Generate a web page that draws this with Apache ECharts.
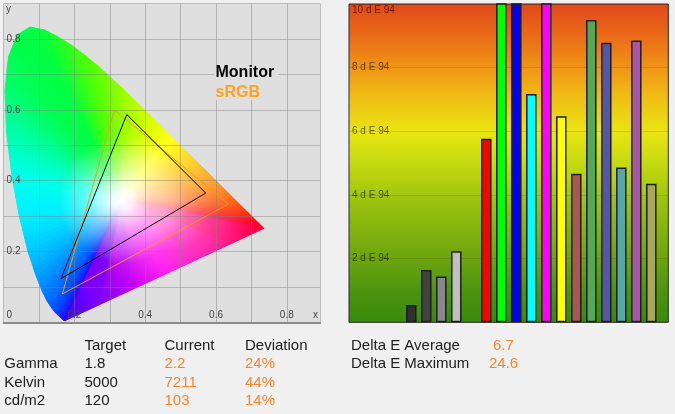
<!DOCTYPE html>
<html><head><meta charset="utf-8">
<script src="https://cdn.jsdelivr.net/npm/echarts@6.0.0/dist/echarts.min.js"></script>
<style>html,body{margin:0;padding:0;background:#f0f0f0;}#c{width:675px;height:414px;}</style>
</head><body><div id="c"></div>
<script>
// ---- CIE 1931 spectral locus (x, y) and display colours ----
const locusNm = [380,400,420,430,440,450,460,470,475,480,485,490,495,500,505,510,515,520,525,530,535,540,545,550,555,560,565,570,575,580,585,590,595,600,610,620,630,640,650,700];
const locusX = [0.1741,0.1733,0.1714,0.1689,0.1644,0.1566,0.1440,0.1241,0.1096,0.0913,0.0687,0.0454,0.0235,0.0082,0.0039,0.0139,0.0389,0.0743,0.1142,0.1547,0.1929,0.2296,0.2658,0.3016,0.3373,0.3731,0.4087,0.4441,0.4788,0.5125,0.5448,0.5752,0.6029,0.6270,0.6658,0.6915,0.7079,0.7190,0.7260,0.7347];
const locusY = [0.0050,0.0048,0.0051,0.0069,0.0109,0.0177,0.0297,0.0578,0.0868,0.1327,0.2007,0.2950,0.4127,0.5384,0.6548,0.7502,0.8120,0.8338,0.8262,0.8059,0.7816,0.7543,0.7243,0.6923,0.6589,0.6245,0.5896,0.5547,0.5202,0.4866,0.4544,0.4242,0.3965,0.3725,0.3340,0.3083,0.2920,0.2809,0.2740,0.2653];
const locusColor = ['#3a00ff','#3600ff','#3000ff','#2a08ff','#2012ff','#102aff','#0048ff','#0068ff','#0080ff','#00a0ff','#00c8ff','#00f0ff','#00ffea','#00ffa8','#00ff70','#00ff50','#00ff48','#00ff44','#08ff38','#20ff28','#34ff18','#48ff08','#5cff00','#78ff00','#94ff00','#b0ff00','#ccff00','#e8ff00','#ffff00','#ffe000','#ffc400','#ffa400','#ff8c00','#ff7000','#ff4800','#ff2800','#ff1418','#ff0828','#ff0430','#ff0034'];
const purpleMid = '#ff00f0';
const whitePoint = [0.335, 0.345];
const warmPoint = [0.47, 0.32];

// ---- gamut triangles (x, y), closed ----
const monitorX = [0.571, 0.348, 0.162, 0.571];
const monitorY = [0.365, 0.587, 0.123, 0.365];
const srgbX = [0.635, 0.313, 0.166, 0.635];
const srgbY = [0.334, 0.600, 0.080, 0.334];

// ---- Delta E bars ----
const patchCategories = ['K1','K2','K3','K4','','Red','Green','Blue','Cyan','Magenta','Yellow','P1','P2','P3','P4','P5','P6'];
const deltaE = [0.54, 1.64, 1.44, 2.23, null, 5.77, 12.5, 24.6, 7.17, 13.0, 6.47, 4.67, 9.5, 8.78, 4.86, 8.85, 4.35];
const patchColors = ['#303030','#424242','#888888','#c0c0c0','#000000','#ff0000','#00ff00','#0000ff','#00ffff','#ff00ff','#ffff00','#a85656','#56a856','#5656a8','#56a8a8','#a856a8','#a8a856'];
const deltaUnit = ' d E 94';

// ---- table texts ----
const tableHeader = ['Target','Current','Deviation'];
const rowNames = ['Gamma','Kelvin','cd/m2'];
const targetVals = ['1.8','5000','120'];
const currentVals = ['2.2','7211','103'];
const deviationVals = ['24%','44%','14%'];
const deltaLabels = ['Delta E Average','Delta E Maximum'];
const deltaVals = ['6.7','24.6'];
const legendNames = ['Monitor','sRGB'];

const FONT = '"Liberation Sans", Arial, sans-serif';
const DARK = '#202020';
const ORANGE = '#f7862f';
const SUBDIV = 6;

function hexRgb(h){ return [parseInt(h.slice(1,3),16), parseInt(h.slice(3,5),16), parseInt(h.slice(5,7),16)]; }
function mix(a, b, t){ const A = hexRgb(a), B = hexRgb(b);
  return 'rgb(' + A.map((v,k) => Math.round(v + (B[k]-v)*t)).join(',') + ')'; }
function segColor(i, j, t){
  if (j === 0) { return t < 0.5 ? mix(locusColor[i], purpleMid, t*2) : mix(purpleMid, locusColor[j], t*2-1); }
  return mix(locusColor[i], locusColor[j], t);
}

const chart = echarts.init(document.getElementById('c'), null, {renderer:'canvas'});

function hideOdd(v){
  const k = Math.round(v*10);
  if (k % 2) return '';
  if (k === 0) return '{z|0}';
  return (k/10).toFixed(1);
}

const fanData = locusX.map((_, i) => [i]);

const graphics = [];
graphics.push({type:'rect', shape:{x:214, y:66, width:64, height:34}, style:{fill:'#dfdfdf'}, z:10});
graphics.push({type:'text', left:6, top:4, z:11, style:{text:'y', font:'10px '+FONT, fill:'#444'}});
graphics.push({type:'text', left:313, top:310, z:11, style:{text:'x', font:'10px '+FONT, fill:'#444'}});
graphics.push({type:'text', left:215.5, top:65, z:11, style:{text:legendNames[0], font:'bold 16px '+FONT, fill:'#000'}});
graphics.push({type:'text', left:215.5, top:84.5, z:11, style:{text:legendNames[1], font:'bold 16px '+FONT, fill:'#ffa41c'}});
const colX = [84.5, 164.5, 245];
const rowY = [345.5, 364, 382.8, 401.3];
tableHeader.forEach((t, i) => graphics.push({type:'text', x:colX[i], y:rowY[0], style:{text:t, font:'15px '+FONT, fill:DARK, verticalAlign:'middle'}}));
rowNames.forEach((t, r) => {
  graphics.push({type:'text', x:4.3, y:rowY[r+1], style:{text:t, font:'15px '+FONT, fill:DARK, verticalAlign:'middle'}});
  graphics.push({type:'text', x:colX[0], y:rowY[r+1], style:{text:targetVals[r], font:'15px '+FONT, fill:DARK, verticalAlign:'middle'}});
  graphics.push({type:'text', x:colX[1], y:rowY[r+1], style:{text:currentVals[r], font:'15px '+FONT, fill:ORANGE, verticalAlign:'middle'}});
  graphics.push({type:'text', x:colX[2], y:rowY[r+1], style:{text:deviationVals[r], font:'15px '+FONT, fill:ORANGE, verticalAlign:'middle'}});
});
const dvX = [493, 489];
deltaLabels.forEach((t, r) => {
  graphics.push({type:'text', x:351, y:rowY[r], style:{text:t, font:'15px '+FONT, fill:DARK, verticalAlign:'middle'}});
  graphics.push({type:'text', x:dvX[r], y:rowY[r], style:{text:deltaVals[r], font:'15px '+FONT, fill:ORANGE, verticalAlign:'middle'}});
});

const GRIDC = 'rgba(128,128,128,0.45)';

function overlay(center, radius, alpha){
  return function(params, api){
    const pts = locusX.map((x, k) => api.coord([x, locusY[k]]));
    const w = api.coord(center);
    const r = api.size([radius, 0])[0];
    const g = new echarts.graphic.RadialGradient(w[0], w[1], r, [
      {offset:0, color:'rgba(255,255,255,' + alpha + ')'},
      {offset:0.15, color:'rgba(255,255,255,' + (alpha*0.92) + ')'},
      {offset:0.5, color:'rgba(255,255,255,' + (alpha*0.45) + ')'},
      {offset:1, color:'rgba(255,255,255,0)'}], true);
    return {type:'polygon', shape:{points:pts}, style:{fill:g}};
  };
}

const option = {
  animation: false,
  backgroundColor: '#f0f0f0',
  textStyle: {fontFamily: FONT},
  grid: [
    {left:3.6, top:3.7, width:316.5, height:318.6, show:true, backgroundColor:'#dfdfdf', borderWidth:0},
    {left:349, top:4, width:319.3, height:318.3, show:true, borderColor:'#2a2a2a', borderWidth:1,
     backgroundColor:{type:'linear', x:0, y:0, x2:0, y2:1, colorStops:[
       {offset:0, color:'#e2471a'},{offset:0.1, color:'#ea6a18'},{offset:0.2, color:'#ef9416'},
       {offset:0.3, color:'#efc014'},{offset:0.4, color:'#eae412'},{offset:0.5, color:'#c6da10'},
       {offset:0.6, color:'#a2c60e'},{offset:0.7, color:'#86b40e'},{offset:0.8, color:'#6ca40e'},
       {offset:0.9, color:'#4c940e'},{offset:1, color:'#388a0c'}]}},
    {left:403.8, top:4, width:255, height:318.3}
  ],
  xAxis: [
    {gridIndex:0, type:'value', min:0, max:0.894, interval:0.1, z:2,
     axisLine:{show:true, onZero:false, lineStyle:{color:'#8a8a8a', width:2}}, axisTick:{show:false},
     splitLine:{show:true, lineStyle:{color:GRIDC, width:1}},
     axisLabel:{inside:true, margin:2, fontSize:10, color:'#444', showMaxLabel:false, alignMinLabel:'left',
       formatter:hideOdd, rich:{z:{padding:[0,0,0,3], fontSize:10, color:'#444'}}}},
    {gridIndex:1, type:'value', show:false, min:0, max:1},
    {gridIndex:2, type:'category', data:patchCategories, show:false}
  ],
  yAxis: [
    {gridIndex:0, type:'value', min:0, max:0.9, interval:0.1, z:2,
     axisLine:{show:false}, axisTick:{show:false},
     splitLine:{show:true, lineStyle:{color:GRIDC, width:1}},
     axisLabel:{inside:true, margin:3, fontSize:10, color:'#444', showMinLabel:false, showMaxLabel:false,
       formatter:v => {const k = Math.round(v*10); return (k % 2) ? '' : (k/10).toFixed(1);}}},
    {gridIndex:1, type:'value', min:0, max:10, interval:2,
     axisLine:{show:false}, axisTick:{show:false},
     splitLine:{show:true, lineStyle:{color:'rgba(90,50,0,0.16)', width:1}},
     axisLabel:{inside:true, margin:3, fontSize:10, color:'rgba(0,0,0,0.6)',
       formatter:v => v === 0 ? '' : (v === 10 ? '{t|' + v + deltaUnit + '}' : v + deltaUnit),
       rich:{t:{padding:[12,0,0,0], fontSize:10, color:'rgba(0,0,0,0.6)'}}}},
    {gridIndex:2, type:'value', min:0, max:10, show:false}
  ],
  series: [
    {type:'custom', xAxisIndex:0, yAxisIndex:0, data:fanData, z:1, silent:true,
     renderItem:function(params, api){
       const n = locusX.length;
       const i = api.value(0);
       const j = (i + 1) % n;
       const w = api.coord(whitePoint);
       const p1 = api.coord([locusX[i], locusY[i]]);
       const p2 = api.coord([locusX[j], locusY[j]]);
       const children = [];
       for (let s = 0; s < SUBDIV; s++) {
         const t0 = s / SUBDIV, t1 = (s + 1) / SUBDIV;
         const a = [p1[0] + (p2[0]-p1[0])*t0, p1[1] + (p2[1]-p1[1])*t0];
         const b = [p1[0] + (p2[0]-p1[0])*t1, p1[1] + (p2[1]-p1[1])*t1];
         const g = new echarts.graphic.LinearGradient(a[0], a[1], b[0] + 0.01, b[1] + 0.01,
           [{offset:0, color:segColor(i, j, t0)}, {offset:1, color:segColor(i, j, t1)}], true);
         children.push({type:'polygon', shape:{points:[w, a, b]}, style:{fill:g, stroke:g, lineWidth:1}});
       }
       return {type:'group', children:children};
     }},
    {type:'custom', xAxisIndex:0, yAxisIndex:0, data:[[0]], z:1, silent:true, renderItem:overlay(warmPoint, 0.24, 0.5)},
    {type:'custom', xAxisIndex:0, yAxisIndex:0, data:[[0]], z:1, silent:true, renderItem:overlay(whitePoint, 0.18, 1)},
    {type:'line', xAxisIndex:0, yAxisIndex:0, z:3, symbol:'none', silent:true,
     data:srgbX.map((x, i) => [x, srgbY[i]]), lineStyle:{color:'#f59a10', width:1}},
    {type:'line', xAxisIndex:0, yAxisIndex:0, z:4, symbol:'none', silent:true,
     data:monitorX.map((x, i) => [x, monitorY[i]]), lineStyle:{color:'#000', width:1}},
    {type:'bar', xAxisIndex:2, yAxisIndex:2, barWidth:10.5, z:3, silent:true,
     data:deltaE.map((v, i) => ({value: v === null ? '-' : v, itemStyle:{color:patchColors[i], borderColor:'#1e1e1e', borderWidth:1.5}}))}
  ],
  graphic: graphics
};
chart.setOption(option);
</script>
</body></html>
